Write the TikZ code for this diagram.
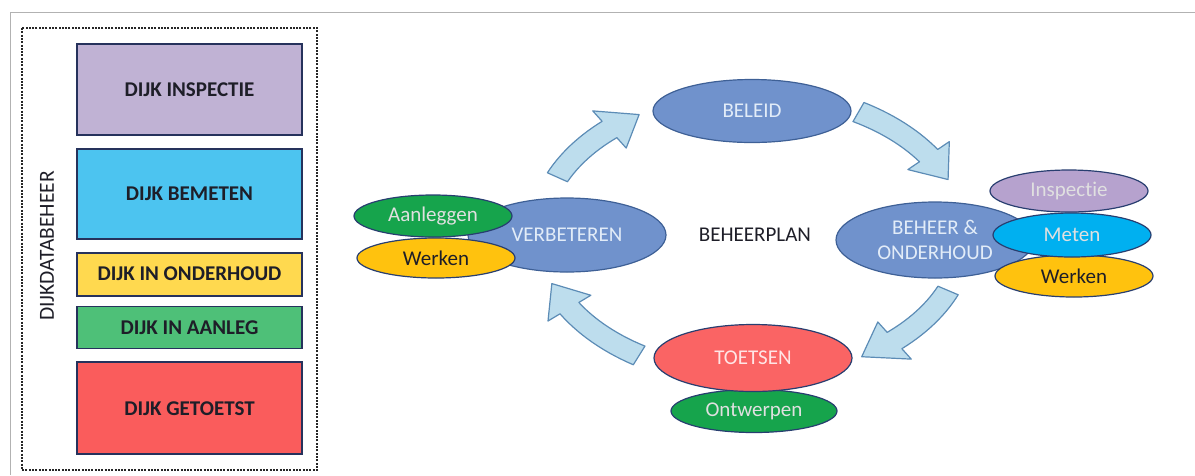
\documentclass[tikz,border=0pt]{standalone}
\usepackage{fontspec}
\setmainfont{Carlito}[Ligatures={NoCommon}]
\usetikzlibrary{positioning,shapes.geometric}

\definecolor{boxline}{RGB}{38,50,92}
\definecolor{darktext}{RGB}{30,30,40}
\definecolor{inspfill}{RGB}{192,178,212}
\definecolor{bemetfill}{RGB}{76,196,240}
\definecolor{onderfill}{RGB}{255,217,79}
\definecolor{aanlegfill}{RGB}{78,192,120}
\definecolor{toetsfill}{RGB}{250,92,92}
\definecolor{stagefill}{RGB}{112,146,204}
\definecolor{stageline}{RGB}{62,96,150}
\definecolor{stagetext}{RGB}{226,236,248}
\definecolor{taskline}{RGB}{40,62,112}
\definecolor{greenfill}{RGB}{22,164,76}
\definecolor{yellowfill}{RGB}{255,194,14}
\definecolor{lilacfill}{RGB}{182,162,206}
\definecolor{cyanfill}{RGB}{0,176,240}
\definecolor{redfill}{RGB}{250,100,100}
\definecolor{arrowfill}{RGB}{189,221,237}
\definecolor{arrowline}{RGB}{92,140,182}

\begin{document}
\begin{tikzpicture}[x=1pt, y=-1pt,
    node distance=12pt,
    dijkbox/.style={rectangle, draw=boxline, line width=1.8pt, minimum width=225pt,
                    align=center, text=darktext, font=\fontsize{21}{24}\selectfont\bfseries},
    stage/.style={ellipse, draw=stageline, line width=1.2pt, fill=stagefill, inner sep=0pt,
                  minimum width=198pt, minimum height=72pt, align=center, text=stagetext,
                  font=\fontsize{21}{25}\selectfont},
    task/.style={ellipse, draw=taskline, line width=1.2pt, inner sep=0pt,
                 minimum width=158pt, minimum height=42pt, text=white!88!black,
                 font=\fontsize{21}{24}\selectfont},
    cyclearrow/.style={draw=arrowline, line width=1.2pt, fill=arrowfill, line join=round}
]
    \useasboundingbox (0,0) rectangle (1195,475);
    \draw[gray!60] (1195,12) -- (10,12) -- (10,475);

    % dijkdatabeheer column
    \draw[black!85, line width=1.2pt, dash pattern=on 2pt off 1.3pt] (22,28) rectangle (317,470);
    \node[rotate=90, text=darktext, font=\fontsize{21.5}{26}\selectfont] (databeheer) at (47,246) {DIJKDATABEHEER};

    \node[dijkbox, fill=inspfill, minimum height=91pt] (inspectiebox) at (189.5,89.5) {DIJK INSPECTIE};
    \node[dijkbox, fill=bemetfill, minimum height=90pt, below=of inspectiebox] (bemetenbox) {DIJK BEMETEN};
    \node[dijkbox, fill=onderfill, minimum height=43pt, below=of bemetenbox] (onderhoudbox) {DIJK IN ONDERHOUD};
    \node[dijkbox, fill=aanlegfill, minimum height=42pt, below=9pt of onderhoudbox] (aanlegbox) {DIJK IN AANLEG};
    \node[dijkbox, fill=toetsfill, minimum height=92pt, below=of aanlegbox] (getoetstbox) {DIJK GETOETST};

    % beheercyclus
    \begin{scope}[shift={(752,235)}]
      \foreach \s/\h/\e in {204/228/238, 300/326/337, 23/48/59, 122/149/160}
        \draw[cyclearrow] plot[domain=\s:\h, samples=15] ({224*cos(\x)}, {153*sin(\x)})
          -- ({238*cos(\h)}, {167*sin(\h)})
          -- ({213*cos(\e)}, {142*sin(\e)})
          -- ({188*cos(\h)}, {117*sin(\h)})
          -- plot[domain=\h:\s, samples=15] ({202*cos(\x)}, {131*sin(\x)})
          -- cycle;
    \end{scope}

    \node[stage, minimum height=63pt] (beleid) at (752,111) {BELEID};
    \node[font=\fontsize{21}{24}\selectfont, text=darktext] (plan) at (755,235) {BEHEERPLAN};

    \node[stage, minimum height=74pt] (verbeteren) at (567,235) {VERBETEREN};
    \node[task, fill=greenfill, minimum height=42pt] (aanleggen) at (433,216) {Aanleggen};
    \node[task, fill=yellowfill, minimum height=40pt, text=darktext] (werkenL) at (436,258) {Werken};

    \node[stage, minimum height=76pt] (beheer) at (935,240) {BEHEER \&\\ONDERHOUD};
    \node[task, fill=lilacfill, minimum height=42pt] (inspectie) at (1069,191) {Inspectie};
    \node[task, fill=yellowfill, minimum height=42pt, text=darktext] (werkenR) at (1074,276) {Werken};
    \node[task, fill=cyanfill, minimum height=44pt] (meten) at (1072,235) {Meten};

    \node[task, fill=greenfill, minimum width=166pt, minimum height=43pt] (ontwerpen) at (754,411) {Ontwerpen};
    \node[stage, draw=taskline, fill=redfill, minimum height=67pt, text=white!90!red] (toetsen) at (753,358) {TOETSEN};
\end{tikzpicture}
\end{document}
